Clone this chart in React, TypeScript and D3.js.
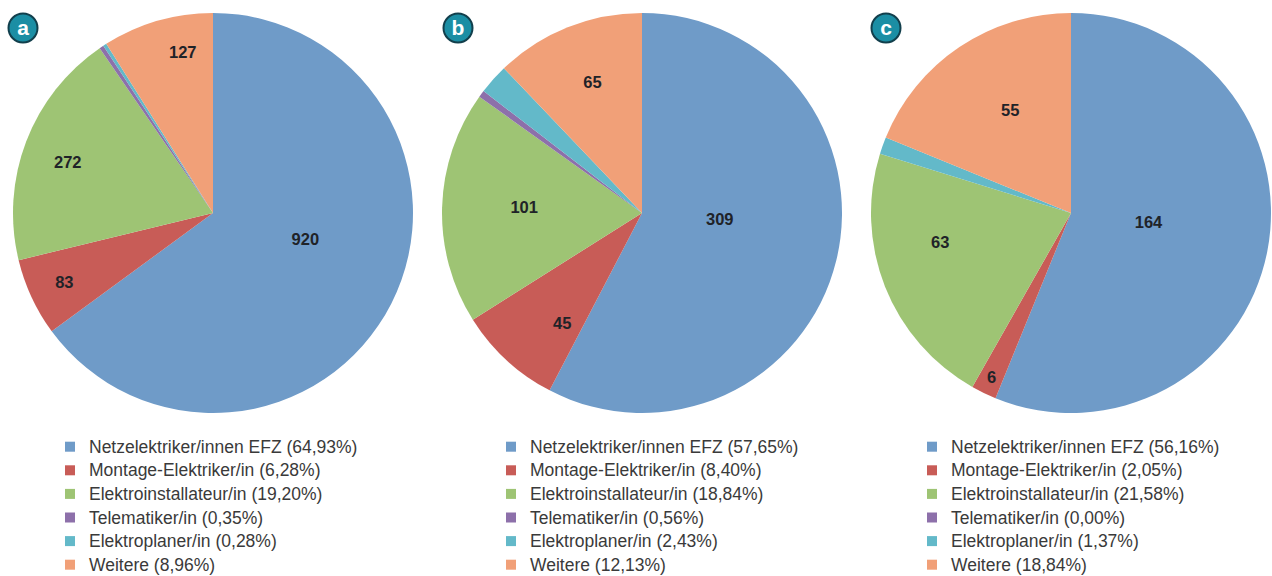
import React from "react";
import * as d3 from "d3";

// ---------- data ----------
const categories = [
  "Netzelektriker/innen EFZ",
  "Montage-Elektriker/in",
  "Elektroinstallateur/in",
  "Telematiker/in",
  "Elektroplaner/in",
  "Weitere",
];
const panelLetters = ["a", "b", "c"];

const percentA = [64.93, 6.28, 19.2, 0.35, 0.28, 8.96];
const countsA: (number | null)[] = [920, 83, 272, null, null, 127];

const percentB = [57.65, 8.4, 18.84, 0.56, 2.43, 12.13];
const countsB: (number | null)[] = [309, 45, 101, null, null, 65];

const percentC = [56.16, 2.05, 21.58, 0.0, 1.37, 18.84];
const countsC: (number | null)[] = [164, 6, 63, null, null, 55];

// ---------- styles / layout ----------
const colors = ["#6f9bc8", "#c85c57", "#9ec474", "#8d70aa", "#63b9c9", "#f1a078"];
const W = 1272;
const H = 576;
const R = 200;
const centersX = [213, 642, 1071];
const centerY = 213;
const legendOffsets = [-148, -136, -144];
const badgeOffsets = [-190, -184, -185];
// label placement: [radius fraction, angle shift in degrees]
const labelPlacementA = [[0.48, -11], [0.82, 0], [0.77, -1.5], [0, 0], [0, 0], [0.82, 5.5]];
const labelPlacementB = [[0.39, -9.3], [0.68, -6.7], [0.59, 1.2], [0, 0], [0, 0], [0.7, 1.1]];
const labelPlacementC = [[0.39, -4.4], [0.91, 0], [0.67, 9], [0, 0], [0, 0], [0.6, 3.5]];

const panels = [
  { percent: percentA, counts: countsA, place: labelPlacementA },
  { percent: percentB, counts: countsB, place: labelPlacementB },
  { percent: percentC, counts: countsC, place: labelPlacementC },
];

const fmtPct = (v: number) => d3.format(".2f")(v).replace(".", ",");

function Pie({ idx }: { idx: number }) {
  const p = panels[idx];
  const cx = centersX[idx];
  const pie = d3.pie<number>().sort(null).value((d) => d);
  const arcs = pie(p.percent);
  const arc = d3.arc<d3.PieArcDatum<number>>().innerRadius(0).outerRadius(R);
  const lx = cx + legendOffsets[idx];
  const bx = cx + badgeOffsets[idx];
  const rowY = d3.scaleLinear().domain([0, 1]).range([446.7, 470.3]);
  return (
    <g>
      <g transform={`translate(${cx},${centerY})`}>
        {arcs.map((a, i) =>
          a.endAngle - a.startAngle > 0 ? (
            <path key={i} d={arc(a) || ""} fill={colors[i]} />
          ) : null
        )}
        {arcs.map((a, i) => {
          const c = p.counts[i];
          if (c === null) return null;
          const [k, shift] = p.place[i];
          const mid = (a.startAngle + a.endAngle) / 2 + (shift * Math.PI) / 180;
          const x = Math.sin(mid) * k * R;
          const y = -Math.cos(mid) * k * R;
          return (
            <text
              key={"l" + i}
              x={x}
              y={y}
              textAnchor="middle"
              dominantBaseline="central"
              fontFamily="'Liberation Sans', Arial, sans-serif"
              fontWeight="bold"
              fontSize={16.5}
              fill="#1f2328"
            >
              {c}
            </text>
          );
        })}
      </g>
      <g>
        <circle cx={bx} cy={28} r={14.5} fill="#1b8ea4" stroke="#123f4c" strokeWidth={2} />
        <text
          x={bx}
          y={28}
          textAnchor="middle"
          dominantBaseline="central"
          fontFamily="'Liberation Sans', Arial, sans-serif"
          fontWeight="bold"
          fontSize={21}
          fill="#ffffff"
          dy={-1}
        >
          {panelLetters[idx]}
        </text>
      </g>
      <g>
        {categories.map((cat, i) => (
          <g key={"g" + i}>
            <rect x={lx} y={rowY(i) - 5} width={10} height={10} fill={colors[i]} />
            <text
              x={lx + 24}
              y={rowY(i)}
              dominantBaseline="central"
              fontFamily="'Liberation Sans', Arial, sans-serif"
              fontSize={17.5}
              fill="#3a3a3a"
            >
              {`${cat} (${fmtPct(p.percent[i])}%)`}
            </text>
          </g>
        ))}
      </g>
    </g>
  );
}

export default function App() {
  return (
    <svg
      width={W}
      height={H}
      style={{ position: "absolute", left: 0, top: 0, background: "#ffffff" }}
    >
      <rect width={W} height={H} fill="#ffffff" />
      {panels.map((_, i) => (
        <Pie key={i} idx={i} />
      ))}
    </svg>
  );
}
